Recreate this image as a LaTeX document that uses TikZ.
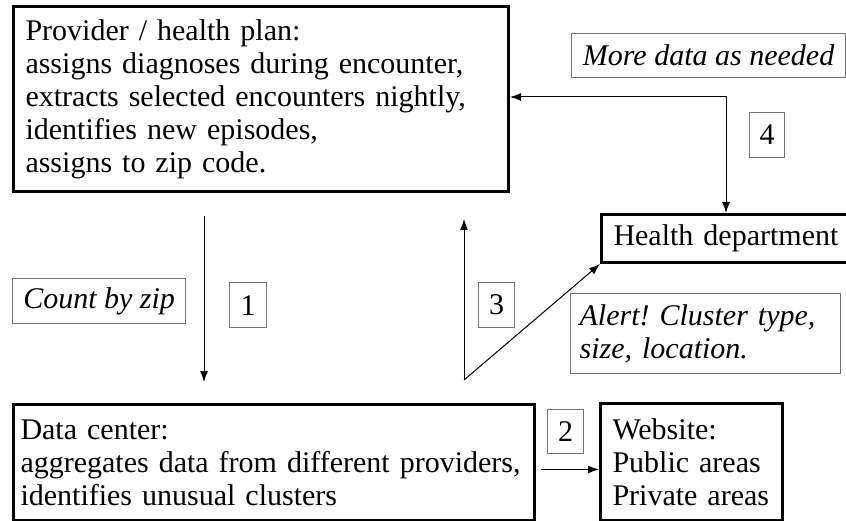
\documentclass[tikz,border=0pt]{standalone}
\usepackage{fontspec}
\setmainfont{Liberation Serif}
\frenchspacing
\usetikzlibrary{arrows.meta}
\usetikzlibrary{calc}

\begin{document}
\begin{tikzpicture}[x=1pt,y=-1pt,
    font=\fontsize{30}{33}\selectfont,
    party/.style={draw,line width=3pt,anchor=north west,align=left,inner xsep=12pt,inner ysep=6pt},
    note/.style={draw=black!55,line width=1.2pt,anchor=north west,inner sep=0pt,
      font=\fontsize{30}{33}\selectfont\itshape},
    numbox/.style={draw=black!55,line width=1.2pt,anchor=north west,inner sep=0pt,
      minimum width=36pt,minimum height=45pt},
    flow/.style={line width=1pt,-{Latex[length=11pt,width=8pt]}},
    twoway/.style={line width=1pt,{Latex[length=11pt,width=8pt]}-{Latex[length=11pt,width=8pt]}}]

	%% page size of the scan
	\useasboundingbox[fill=white] (0,0) rectangle (846,521);
	\clip (0,0) rectangle (846,521);

	%% the four parties
	\node[party,text width=471pt,minimum height=185pt] (prov) at (12,5)
	  {Provider / health plan:\\
	   assigns diagnoses during encounter,\\
	   extracts selected encounters nightly,\\
	   identifies new episodes,\\
	   assigns to zip code.};
	\node[party,text width=246pt,minimum height=48pt] (health) at (600,213)
	  {Health department};
	\node[party,text width=507pt,inner xsep=7pt,minimum height=116pt] (data) at (12,403)
	  {Data center:\\
	   aggregates data from different providers,\\
	   identifies unusual clusters};
	\node[party,text width=158pt,minimum height=117pt] (web) at (599,402)
	  {Website:\\ Public areas\\ Private areas};

	%% what travels along the arrows
	\node[note,minimum width=274pt,minimum height=44pt] (more) at (571,33)
	  {More data as needed};
	\node[note,minimum width=173pt,minimum height=45pt] (count) at (12,278)
	  {Count by zip};
	\node[note,align=left,text width=252pt,minimum height=80pt,inner xsep=9pt] (alert) at (570,293)
	  {Alert! Cluster type,\\ size, location.};

	% step numbers
	\node[numbox,minimum width=37pt] (n1) at (229,282) {1};
	\node[numbox,minimum height=44pt] (n2) at (547,409) {2};
	\node[numbox] (n3) at (478,282) {3};
	\node[numbox,minimum width=35pt] (n4) at (749,112) {4};

	%% connectors
	\coordinate (zip) at (204,300);
	\coordinate (fork) at (464,380);
	\coordinate (ask) at (726,97);

	\draw[flow,shorten <=23pt,shorten >=21pt] (prov.south -| zip) -- (data.north -| zip); % 1
	\draw[flow,shorten <=5pt] ([yshift=-7pt]data.east) -- ([yshift=-7pt]data.east -| web.west); % 2
	\draw[flow,shorten >=26pt] (fork) -- (fork |- prov.south); % 3
	\draw[flow] (fork) -- (health.south west);
	\draw[twoway] (prov.east |- ask) -- (ask) -- (ask |- health.north); % 4
\end{tikzpicture}
\end{document}
